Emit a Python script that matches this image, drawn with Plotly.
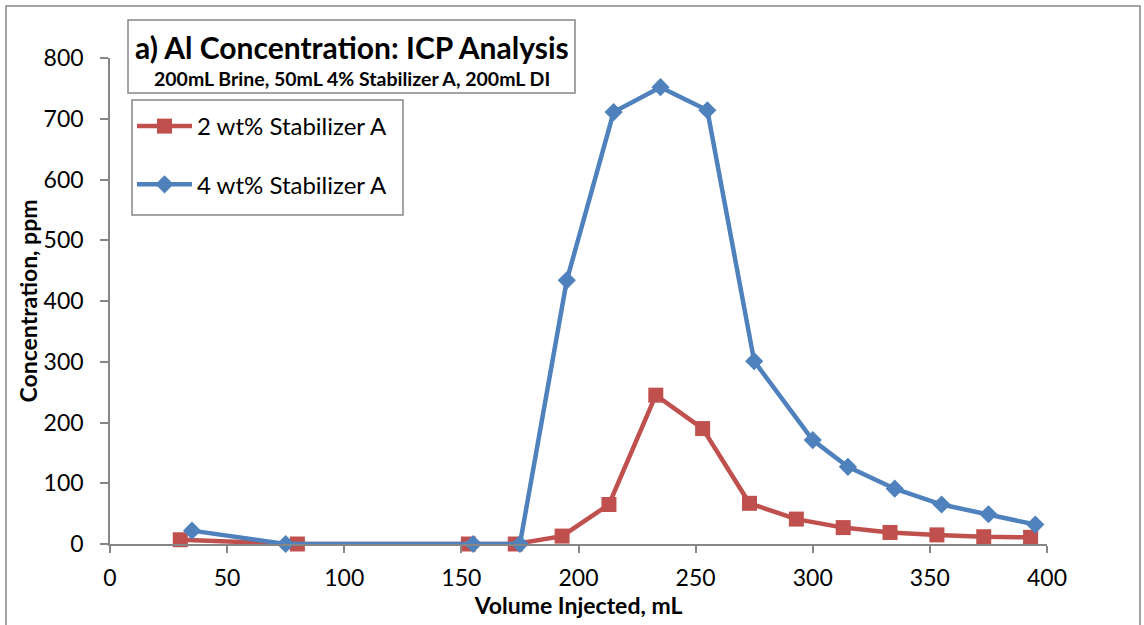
import plotly.graph_objects as go

# Data
red_x = [30, 80, 153, 173, 193, 213, 233, 253, 273, 293, 313, 333, 353, 373, 393]
red_y = [7, 0, 0, 0, 13, 65, 245, 190, 67, 41, 27, 19, 15, 12, 11]
blue_x = [35, 75, 155, 175, 195, 215, 235, 255, 275, 300, 315, 335, 355, 375, 395]
blue_y = [22, 0, 0, 0, 434, 711, 752, 714, 301, 171, 127, 91, 65, 49, 32]
red_name = "2 wt% Stabilizer A"
blue_name = "4 wt% Stabilizer A"
title_text = "a) Al Concentration: ICP Analysis"
subtitle_text = "200mL Brine, 50mL 4% Stabilizer A, 200mL DI"
x_title = "Volume Injected, mL"
y_title = "Concentration, ppm"

FONT = "Lato, 'Open Sans', sans-serif"
AX = "#868686"

fig = go.Figure()
fig.add_trace(go.Scatter(
    x=red_x, y=red_y, name=red_name, mode="lines+markers",
    line=dict(color="#C0504D", width=4.5),
    marker=dict(symbol="square", size=15, color="#C0504D"),
    cliponaxis=False, legendgroup="r"))
fig.add_trace(go.Scatter(
    x=blue_x, y=blue_y, name=blue_name, mode="lines+markers",
    line=dict(color="#4F81BD", width=4.5),
    marker=dict(symbol="diamond", size=14, color="#4F81BD"),
    cliponaxis=False, legendgroup="b"))

L, R, T, B = 110, 97, 58, 81
W, H = 1144, 625
pw, ph = W - L - R, H - T - B

def px(x):
    return (x - L) / pw

def py(y):
    return (H - B - y) / ph

fig.update_layout(
    width=W, height=H,
    margin=dict(l=L, r=R, t=T, b=B, pad=0),
    paper_bgcolor="white", plot_bgcolor="white",
    font=dict(family=FONT, color="black"),
    showlegend=True,
    legend=dict(
        x=px(132), y=py(104), xanchor="left", yanchor="top",
        borderwidth=0, bgcolor="rgba(0,0,0,0)",
        font=dict(size=24, family=FONT),
        tracegroupgap=24, traceorder="grouped",
        itemwidth=55),
    xaxis=dict(
        range=[0, 400], dtick=50, tick0=0,
        showline=True, linecolor=AX, linewidth=1.5,
        ticks="outside", tickcolor=AX, ticklen=7, tickwidth=1.5,
        showgrid=False, zeroline=False,
        tickfont=dict(size=23, family=FONT),
        ticklabelstandoff=6,
        title=dict(text="<b>" + x_title + "</b>", font=dict(size=23, family=FONT), standoff=2)),
    yaxis=dict(
        range=[0, 800], dtick=100, tick0=0,
        showline=True, linecolor=AX, linewidth=1.5,
        ticks="outside", tickcolor=AX, ticklen=8, tickwidth=1.5,
        showgrid=False, zeroline=False,
        tickfont=dict(size=23, family=FONT),
        ticklabelstandoff=12,
        title=dict(text="<b>" + y_title + "</b>", font=dict(size=23, family=FONT), standoff=0)),
)

# outer chart border
fig.add_shape(type="rect", xref="paper", yref="paper",
              x0=px(6), x1=px(1140), y0=py(6), y1=py(640),
              line=dict(color=AX, width=1.5), layer="below")
# legend box
fig.add_shape(type="rect", xref="paper", yref="paper",
              x0=px(132), x1=px(403), y0=py(215), y1=py(100),
              line=dict(color=AX, width=1.5), fillcolor="white")
# title box
fig.add_shape(type="rect", xref="paper", yref="paper",
              x0=px(128), x1=px(575), y0=py(93), y1=py(20),
              line=dict(color=AX, width=1.5), fillcolor="white")
fig.add_annotation(xref="paper", yref="paper", x=px(351.5), y=py(47),
                   text="<b>" + title_text + "</b>", showarrow=False,
                   font=dict(size=30, family=FONT), xanchor="center", yanchor="middle")
fig.add_annotation(xref="paper", yref="paper", x=px(352), y=py(78),
                   text="<b>" + subtitle_text + "</b>", showarrow=False,
                   font=dict(size=19.5, family=FONT), xanchor="center", yanchor="middle")

fig.write_html("out.html")
